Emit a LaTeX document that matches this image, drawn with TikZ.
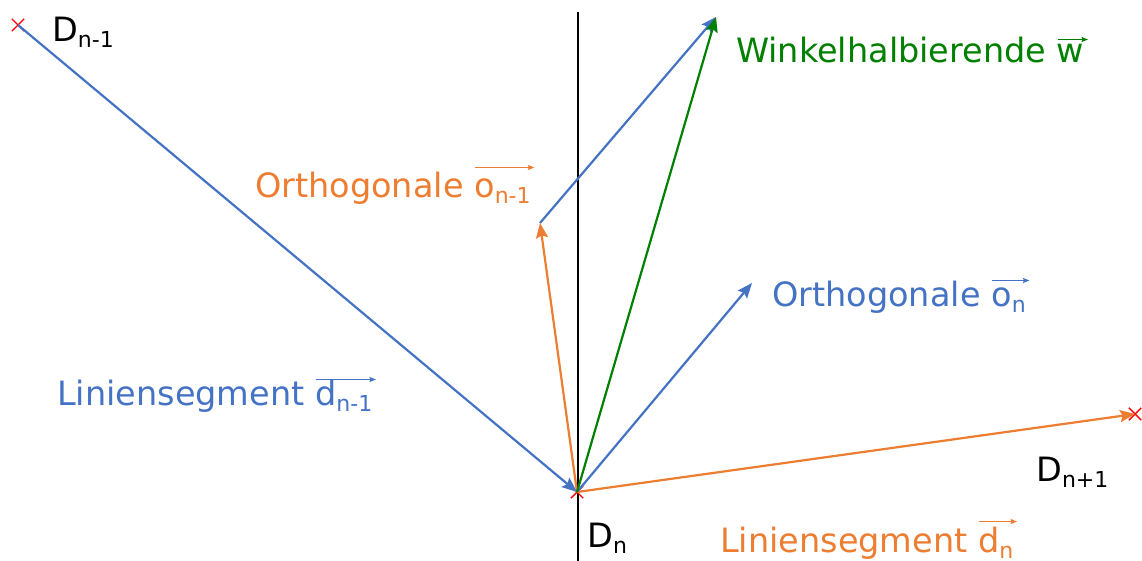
\documentclass[tikz,border=0pt]{standalone}
\usepackage{fontspec}
\setmainfont{DejaVu Sans}
\usetikzlibrary{arrows.meta,shapes.misc}
\definecolor{oblue}{HTML}{4472C4}
\definecolor{oorange}{HTML}{ED7D31}
\definecolor{ogreen}{HTML}{008000}
\newsavebox\vecbox
\newcommand{\vecab}[3]{% height, color, content
  \sbox\vecbox{#3}%
  \rlap{\raisebox{#1}{\tikz\draw[#2,line width=1.4pt,-{Stealth[length=6.5pt,width=5pt,inset=1pt]}] (0pt,0pt)--(\wd\vecbox+3pt,0pt);}}\usebox\vecbox}
\newcommand{\sub}[1]{\raisebox{-6pt}{\fontsize{22}{24}\selectfont #1}}
\tikzset{
  lbl/.style={anchor=base west,inner sep=0pt,font=\fontsize{33.5}{38}\selectfont},
  pt/.style={cross out,draw=red,line width=1.4pt,minimum size=11pt,inner sep=0pt},
  vec/.style={line width=2.2pt,-{Stealth[length=15pt,width=12pt,inset=2.5pt]}},
}
\begin{document}
\begin{tikzpicture}[x=1pt,y=-1pt]
\useasboundingbox (0,0) rectangle (1142,561);
% axis
\coordinate (top) at (578,12);
\coordinate (bot) at (578,561);
\draw[line width=2.8pt] (top) -- (bot);
% points
\node[pt] (Dm) at (18,25) {};
\node[pt] (Dn) at (577,492) {};
\node[pt] (Dp) at (1135,414) {};
\coordinate (T) at (540,223);
\coordinate (W) at (716,17);
\coordinate (O) at (752,283);
% vectors
\draw[vec,oblue] (Dm.center) -- (Dn.center);
\draw[vec,oorange] (Dn.center) -- (Dp.center);
\draw[vec,oorange] (Dn.center) -- (T);
\draw[vec,oblue] (T) -- (W);
\draw[vec,oblue] (Dn.center) -- (O);
\draw[vec,ogreen] (Dn.center) -- (W);
% labels
\node[lbl] (lDm) at (52,42) {D\sub{n-1}};
\node[lbl] (lDn) at (587,547) {D\sub{n}};
\node[lbl] (lDp) at (1036,481) {D\sub{n+1}};
\node[lbl,text=ogreen] (lW) at (736,63) {Winkelhalbierende \vecab{21pt}{ogreen}{w}};
\node[lbl,text=oorange] (lO1) at (255,198) {Orthogonale \vecab{28pt}{oorange}{o\sub{n-1}}};
\node[lbl,text=oblue] (lO2) at (772,306) {Orthogonale \vecab{23pt}{oblue}{o\sub{n}}};
\node[lbl,text=oblue] (lL1) at (57,405) {Liniensegment \vecab{23pt}{oblue}{d\sub{n-1}}};
\node[lbl,text=oorange] (lL2) at (720,552) {Liniensegment \vecab{28pt}{oorange}{d\sub{n}}};
\end{tikzpicture}
\end{document}
